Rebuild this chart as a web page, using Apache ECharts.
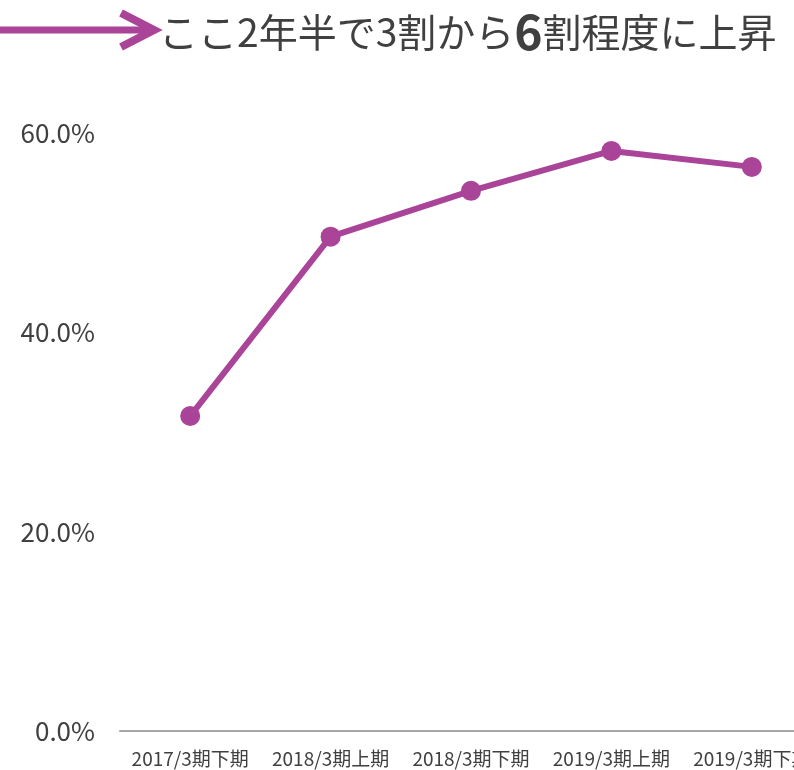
<!DOCTYPE html>
<html>
<head>
<meta charset="utf-8">
<script src="https://cdn.jsdelivr.net/npm/echarts@6/dist/echarts.min.js"></script>
<style>
  html, body { margin: 0; padding: 0; background: #fff; }
  #chart { width: 794px; height: 770px; }
</style>
</head>
<body>
<div id="chart"></div>
<script>
const categories = ['2017/3期下期', '2018/3期上期', '2018/3期下期', '2019/3期上期', '2019/3期下期'];
const ratios = [0.316, 0.496, 0.542, 0.582, 0.566];
const yTicks = [0, 0.2, 0.4, 0.6];

const purple = '#a94498';
const font = '"Noto Sans CJK JP", "Noto Sans", sans-serif';

const chart = echarts.init(document.getElementById('chart'));

const option = {
  animation: false,
  title: {
    left: 154,
    top: 3,
    text: '{a|ここ2年半で3割から}{b|6}{a|割程度に上昇}',
    textStyle: {
      rich: {
        a: { fontFamily: font, fontSize: 39, color: '#404040', fontWeight: 'normal' },
        b: { fontFamily: font, fontSize: 48, color: '#404040', fontWeight: 'bold' },
      },
    },
  },
  graphic: [
    {
      type: 'line',
      shape: { x1: 0, y1: 30, x2: 154, y2: 30 },
      style: { stroke: purple, lineWidth: 7 },
    },
    {
      type: 'polyline',
      shape: { points: [[121, 13], [154, 30], [121, 47]] },
      style: { stroke: purple, lineWidth: 8, fill: null, lineJoin: 'miter' },
    },
  ],
  grid: {
    left: 120,
    right: -28,
    top: 133,
    bottom: 39,
    outerBoundsMode: 'none',
  },
  xAxis: {
    type: 'category',
    data: categories,
    boundaryGap: true,
    axisLine: { lineStyle: { color: '#a6a6a6', width: 2 } },
    axisTick: { show: false },
    axisLabel: {
      color: '#404040',
      fontFamily: font,
      fontSize: 19,
      margin: 18,
      interval: 0,
    },
  },
  yAxis: {
    type: 'value',
    min: yTicks[0],
    max: yTicks[yTicks.length - 1],
    interval: yTicks[1] - yTicks[0],
    splitLine: { show: false },
    axisLine: { show: false },
    axisTick: { show: false },
    axisLabel: {
      color: '#404040',
      fontFamily: font,
      fontSize: 26,
      margin: 25,
      formatter: (v) => (v * 100).toFixed(1) + '%',
    },
  },
  series: [
    {
      type: 'line',
      data: ratios,
      symbol: 'circle',
      symbolSize: 20,
      lineStyle: { color: purple, width: 6 },
      itemStyle: { color: purple },
    },
  ],
};

chart.setOption(option);
</script>
</body>
</html>
